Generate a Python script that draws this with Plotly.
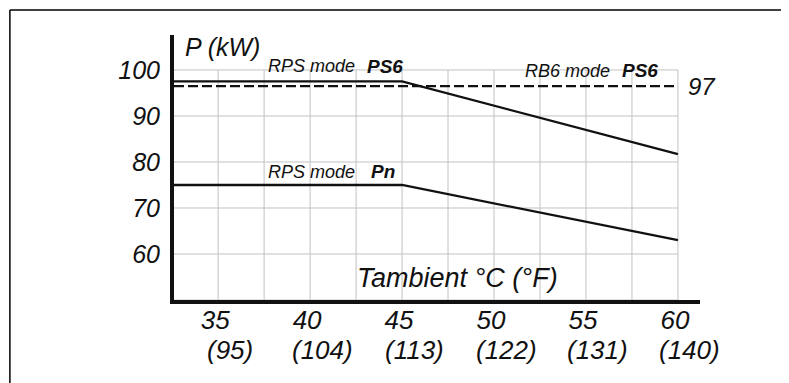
import plotly.graph_objects as go

# ambient temperature (degC) and power (kW)
temp_c = [35, 40, 45, 50, 55, 60]
temp_f = [95, 104, 113, 122, 131, 140]
power_ticks = [60, 70, 80, 90, 100]

ps6_t = [32.6, 45, 60]
ps6_p = [97.5, 97.5, 81.7]
pn_t = [32.6, 45, 60]
pn_p = [75, 75, 63]
rb6_t = [32.6, 60]
rb6_p = [96.5, 96.5]
rb6_label = "97"

grid_x = [35, 37.5, 40, 42.5, 45, 47.5, 50, 52.5, 55, 57.5, 60]
grid_y = [50, 60, 70, 80, 90, 100]

FONT = "Liberation Sans, Arial, sans-serif"
INK = "#111111"

fig = go.Figure()

# light grid, only inside 32.6..60 / 50..100
gx_pts, gy_pts = [], []
for gx in grid_x:
    gx_pts += [gx, gx, None]
    gy_pts += [50, 100, None]
for gy in grid_y:
    gx_pts += [32.6, 60, None]
    gy_pts += [gy, gy, None]
fig.add_trace(go.Scatter(x=gx_pts, y=gy_pts, mode="lines", hoverinfo="skip",
                         line=dict(color="#c2c2c2", width=1)))

fig.add_trace(go.Scatter(x=rb6_t, y=rb6_p, mode="lines",
                         line=dict(color=INK, width=2.3, dash="10px,4px")))
fig.add_trace(go.Scatter(x=ps6_t, y=ps6_p, mode="lines",
                         line=dict(color=INK, width=2.3)))
fig.add_trace(go.Scatter(x=pn_t, y=pn_p, mode="lines",
                         line=dict(color=INK, width=2.3)))

def note(text, x, y, size, xanchor="left", weight="normal"):
    fig.add_annotation(text=text, x=x, y=y, xref="x", yref="y", showarrow=False,
                       xanchor=xanchor, yanchor="middle",
                       font=dict(family=FONT, size=size, color=INK, style="italic",
                                 weight=weight))

note("P (kW)", 33.09, 105.1, 25)
note("RPS mode", 37.59, 100.76, 18)
note("PS6", 42.98, 100.76, 19, weight="bold")
note("RB6 mode", 51.58, 99.78, 18)
note("PS6", 56.85, 99.78, 19, weight="bold")
note("RPS mode", 37.59, 77.9, 18)
note("Pn", 43.2, 77.9, 19, weight="bold")
note("Tambient °C (°F)", 47.99, 54.78, 27, xanchor="center")
note(rb6_label, 60.45, rb6_p[0], 24)

# Fahrenheit line under the Celsius tick labels
for c, f in zip(temp_c, temp_f):
    fig.add_annotation(text=f"({f})", x=c, y=-0.189, xref="x", yref="paper",
                       showarrow=False, xanchor="center", yanchor="middle", xshift=12,
                       font=dict(family=FONT, size=26, color=INK, style="italic"))

# frame lines (top and left only)
fig.add_shape(type="line", xref="paper", yref="paper", x0=-0.312, x1=1.3, y0=1.0943, y1=1.0943,
              line=dict(color="black", width=1.5))
fig.add_shape(type="line", xref="paper", yref="paper", x0=-0.312, x1=-0.312, y0=1.0943, y1=-0.4,
              line=dict(color="black", width=1.5))

fig.update_layout(
    width=781, height=375,
    margin=dict(l=166, r=89, t=27, b=83),
    paper_bgcolor="white", plot_bgcolor="white",
    showlegend=False,
    font=dict(family=FONT, color=INK),
)
fig.update_xaxes(range=[32.6, 61.2], showgrid=False, zeroline=False,
                 showline=True, linewidth=4, linecolor=INK,
                 tickvals=temp_c, ticktext=[str(c) for c in temp_c],
                 ticks="", ticklabelstandoff=-6, ticklabelshift=-3,
                 tickfont=dict(family=FONT, size=26, color=INK, style="italic"))
fig.update_yaxes(range=[50, 107.6], showgrid=False, zeroline=False,
                 showline=True, linewidth=4, linecolor=INK,
                 tickvals=power_ticks, ticktext=[str(p) for p in power_ticks],
                 ticks="", ticklabelstandoff=5,
                 tickfont=dict(family=FONT, size=25, color=INK, style="italic"))

fig.write_html("out.html")
